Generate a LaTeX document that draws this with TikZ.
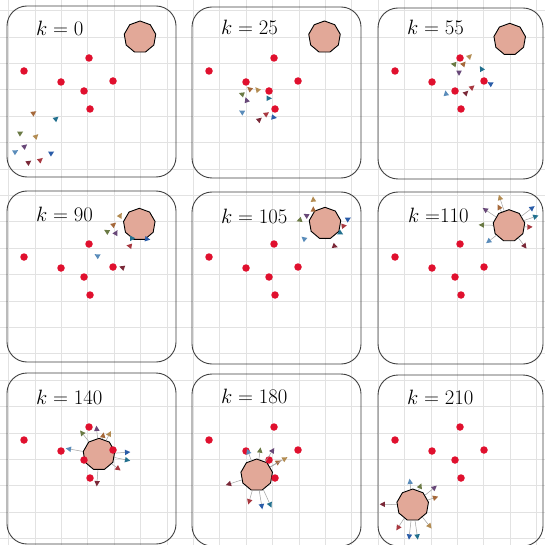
\documentclass[tikz,border=0pt]{standalone}
\usetikzlibrary{shapes.geometric}

\definecolor{agbrown}{HTML}{A5683A}
\definecolor{agteal}{HTML}{22708E}
\definecolor{agolive}{HTML}{6B7A45}
\definecolor{agtan}{HTML}{B38C52}
\definecolor{agsteel}{HTML}{5A8CBA}
\definecolor{agpurple}{HTML}{684878}
\definecolor{agmaroon}{HTML}{7A2838}
\definecolor{agred}{HTML}{A83840}
\definecolor{agblue}{HTML}{2A5CA8}
\definecolor{lmred}{HTML}{E0102E}
\definecolor{obfill}{HTML}{E2A898}
\definecolor{gridgray}{HTML}{E2E2E2}

% six red points, the same in every frame
\newcommand{\landmarks}[1]{%
  \foreach \lmx/\lmy [count=\lmi] in {24/71,89/58,61/82,113/81,84/91,90/109}
    \node[landmark] (#1lm\lmi) at (\lmx,\lmy) {};}
% nine agents: x/y/colour/heading
\newcommand{\agents}[2]{%
  \foreach \agx/\agy/\agc/\agr [count=\agi] in {#2}
    \node[agent=\agc, shape border rotate=\agr] (#1a\agi) at (\agx,\agy) {};}
% tethers from the target to the agents
\newcommand{\tethers}[1]{%
  \foreach \agi in {1,...,9}
    \draw[tether] (#1ob) -- (#1a\agi);}

\begin{document}
\begin{tikzpicture}[x=1pt, y=-1pt,
    landmark/.style={circle, fill=lmred, inner sep=0pt, minimum size=7.5pt},
    obstacle/.style={regular polygon, regular polygon sides=9, draw=black, line width=0.9pt,
      fill=obfill, inner sep=0pt, minimum size=32pt},
    agent/.style={isosceles triangle, isosceles triangle apex angle=55,
      shape border uses incircle, fill=#1, inner sep=0pt, minimum size=5.3pt},
    tether/.style={draw=gray!75, line width=0.5pt},
    panel/.style={draw=black!75, line width=0.9pt, rounded corners=20pt},
    gridline/.style={draw=gridgray, line width=0.7pt},
    klabel/.style={anchor=west, inner sep=0pt, font=\fontsize{21.5}{24}\selectfont}]
    \useasboundingbox (0,0) rectangle (545,545);
    \fill[white] (0,0) rectangle (545,545);
    % Background grid
    \foreach \g in {0,...,20} {
        \draw[gridline] ({8.5+26.4*\g},0) -- ({8.5+26.4*\g},545);
        \draw[gridline] (0,{10.5+26.4*\g}) -- (545,{10.5+26.4*\g});
    }
    % k = 0
    \begin{scope}
        \draw[panel] (7,6) rectangle (176,177);
        \node[klabel] (p1k) at (36,28) {$k = 0$};
        \node[obstacle] (p1ob) at (140,37) {};
        \landmarks{p1}
        \agents{p1}{33.3/113.3/agbrown/35, 55.7/119/agteal/40, 20/133.3/agolive/30,
          35.7/136.7/agtan/45, 15/152/agsteel/30, 24.3/146.7/agpurple/40,
          28.3/162.7/agmaroon/35, 40/160.3/agred/40, 51/153.3/agblue/30}
    \end{scope}
    % k = 25
    \begin{scope}[shift={(185,0)}]
        \draw[panel] (7,7) rectangle (176,178);
        \node[klabel] (p2k) at (36,27) {$k = 25$};
        \node[obstacle] (p2ob) at (139.5,37) {};
        \landmarks{p2}
        \agents{p2}{65/89.3/agbrown/140, 83.3/98.3/agteal/0, 57.3/94.3/agolive/160,
          72.7/90/agtan/130, 57.3/112.3/agsteel/150, 61.7/100.7/agpurple/110,
          74/120/agmaroon/40, 81/114.3/agred/35, 88.3/117.3/agblue/-10}
    \end{scope}
    % k = 55
    \begin{scope}[shift={(371,0)}]
        \draw[panel] (7,8) rectangle (172,179);
        \node[klabel] (p3k) at (36,27) {$k = 55$};
        \node[obstacle] (p3ob) at (138.7,39.3) {};
        \landmarks{p3}
        \agents{p3}{92.3/64.3/agbrown/50, 110.7/69.3/agteal/120, 83.3/64.3/agolive/170,
          98.3/56.7/agtan/45, 75/94/agsteel/100, 88/72.3/agpurple/-90,
          94.7/93.3/agmaroon/45, 100.7/87.7/agred/40, 119.7/84/agblue/150}
    \end{scope}
    % k = 90
    \begin{scope}[shift={(0,186)}]
        \draw[panel] (7,5) rectangle (176,176);
        \node[klabel] (p4k) at (36,28) {$k = 90$};
        \node[obstacle] (p4ob) at (139.3,38.3) {};
        \landmarks{p4}
        \agents{p4}{113.3/39/agbrown/40, 131.7/52.3/agteal/0, 107.3/45.7/agolive/150,
          120/30/agtan/60, 97.7/70/agsteel/150, 115.7/47.3/agpurple/60,
          122.7/81.7/agmaroon/160, 130/60/agred/170, 146.7/53/agblue/-10}
    \end{scope}
    % k = 105
    \begin{scope}[shift={(185,186)}]
        \draw[panel] (7,6) rectangle (176,178);
        \node[klabel] (p5k) at (36,30) {$k = 105$};
        \node[obstacle] (p5ob) at (140,37.3) {};
        \landmarks{p5}
        \agents{p5}{128.3/24/agbrown/90, 155/46.7/agteal/-30, 115/34/agolive/200,
          128.3/14/agtan/95, 119.3/53/agsteel/140, 121.7/29.7/agpurple/150,
          149.3/60/agmaroon/-20, 158.3/40/agred/10, 162.7/33.3/agblue/30}
    \end{scope}
    % k = 110
    \begin{scope}[shift={(371,186)}]
        \draw[panel] (7,6) rectangle (172,178);
        \node[klabel] (p6k) at (37,29) {$k\;{=}110$};
        \node[obstacle] (p6ob) at (138,39.7) {};
        \landmarks{p6}
        \agents{p6}{128.3/21.7/agbrown/118, 164/30.7/agteal/19, 111.3/39/agolive/178,
          129/12.3/agtan/108, 118/55/agsteel/217, 114.7/24/agpurple/146,
          153.3/59.7/agmaroon/-53, 158/41/agred/2, 160.7/22.3/agblue/37}
        \tethers{p6}
    \end{scope}
    % k = 140
    \begin{scope}[shift={(0,369)}]
        \draw[panel] (7,4) rectangle (176,175);
        \node[klabel] (p7k) at (36,28) {$k = 140$};
        \node[obstacle] (p7ob) at (99,85.3) {};
        \landmarks{p7}
        \agents{p7}{103/67/agbrown/80, 126.7/91/agteal/-12, 82.3/64.3/agolive/128,
          109.3/65.3/agtan/63, 69.3/80/agsteel/170, 96.7/60.3/agpurple/95,
          97/113.7/agmaroon/-94, 117.7/99.3/agred/-37, 126.7/83.3/agblue/4}
        \tethers{p7}
    \end{scope}
    % k = 180
    \begin{scope}[shift={(185,369)}]
        \draw[panel] (7,5) rectangle (176,177);
        \node[klabel] (p8k) at (36,27) {$k = 180$};
        \node[obstacle] (p8ob) at (71.7,106) {};
        \landmarks{p8}
        \agents{p8}{92.7/93.3/agbrown/31, 85/135.3/agteal/294, 75/82/agolive/82,
          99.3/90/agtan/30, 63.3/83.3/agsteel/110, 87.3/82/agpurple/57,
          44.3/115/agmaroon/198, 64.3/132/agred/254, 76.7/136.7/agblue/279}
        \tethers{p8}
    \end{scope}
    % k = 210
    \begin{scope}[shift={(371,369)}]
        \draw[panel] (7,6) rectangle (172,177);
        \node[klabel] (p9k) at (36,28) {$k = 210$};
        \node[obstacle] (p9ob) at (41.7,136) {};
        \landmarks{p9}
        \agents{p9}{63.7/128.7/agbrown/18, 46.3/167/agteal/278, 49/117.7/agolive/68,
          58.3/156.7/agtan/309, 39/113.3/agsteel/97, 63/119/agpurple/39,
          12.3/135.3/agmaroon/180, 27.3/158.3/agred/237, 38.3/167/agblue/264}
        \tethers{p9}
    \end{scope}
\end{tikzpicture}
\end{document}
